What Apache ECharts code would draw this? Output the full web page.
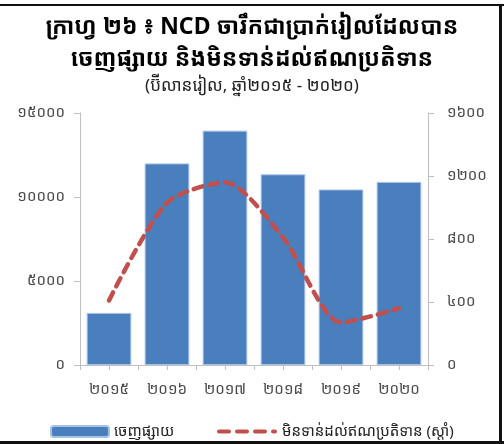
<!DOCTYPE html>
<html>
<head>
<meta charset="utf-8">
<script src="https://cdn.jsdelivr.net/npm/echarts@6/dist/echarts.min.js"></script>
<style>
  html, body { margin: 0; padding: 0; background: #fff; }
  #chart { width: 504px; height: 444px; }
</style>
</head>
<body>
<div id="chart"></div>
<script>
// Years on the category axis (Khmer numerals)
const years = ['២០១៥', '២០១៦', '២០១៧', '២០១៨', '២០១៩', '២០២០'];
// NCD issued, billion riel (left axis)
const issued = [3100, 12000, 13950, 11350, 10450, 10900];
// NCD outstanding, billion riel (right axis)
const outstanding = [410, 1030, 1160, 810, 270, 360];

const barName = 'ចេញផ្សាយ';
const lineName = 'មិនទាន់ដល់ឥណប្រតិទាន (ស្តាំ)';

const titleLines = [
  'ក្រាហ្វ ២៦ ៖ NCD ចារឹកជាប្រាក់រៀលដែលបាន',
  'ចេញផ្សាយ និងមិនទាន់ដល់ឥណប្រតិទាន'
];
const subTitle = '(ប៊ីលានរៀល, ឆ្នាំ២០១៥ - ២០២០)';

const FONT = '"Noto Sans Khmer", "Khmer OS", "Noto Sans", "DejaVu Sans", sans-serif';
const khDigits = '០១២៣៤៥៦៧៨៩';
const toKhmer = v => String(v).replace(/[0-9]/g, d => khDigits[+d]);

// dashed-line legend icon: three dashes and a dot
const dashIcon = 'path://M2,0H12A2,2,0,0,1,12,4H2A2,2,0,0,1,2,0Z' +
  'M20,0H30A2,2,0,0,1,30,4H20A2,2,0,0,1,20,0Z' +
  'M38,0H48A2,2,0,0,1,48,4H38A2,2,0,0,1,38,0Z' +
  'M56,0H58A2,2,0,0,1,58,4H56A2,2,0,0,1,56,0Z';

const chart = echarts.init(document.getElementById('chart'), null, { renderer: 'canvas' });

const axisGray = '#bfbfbf';
const labelColor = '#4a4a4a';

chart.setOption({
  animation: false,
  backgroundColor: '#ffffff',
  textStyle: { fontFamily: FONT },
  title: [
    {
      text: titleLines.join('\n'),
      left: 'center', top: 6,
      textStyle: { fontFamily: FONT, fontSize: 23, fontWeight: 'bold', color: '#000', lineHeight: 32 }
    },
    {
      text: subTitle,
      left: 'center', top: 73,
      textStyle: { fontFamily: FONT, fontSize: 17, fontWeight: 'normal', color: '#222' }
    }
  ],
  legend: [
    {
      data: [barName], left: 45, top: 419,
      itemWidth: 58, itemHeight: 11, itemGap: 6,
      textStyle: { fontFamily: FONT, fontSize: 15, color: '#222' }
    },
    {
      data: [{ name: lineName, icon: dashIcon }], left: 212, top: 419,
      itemWidth: 60, itemHeight: 4,
      textStyle: { fontFamily: FONT, fontSize: 15, color: '#222' }
    }
  ],
  grid: { left: 80, right: 76, top: 113, bottom: 79 },
  xAxis: [
    {
      type: 'category', data: years, boundaryGap: true,
      axisLine: { lineStyle: { color: axisGray } },
      axisTick: { show: true, length: 5, lineStyle: { color: axisGray } },
      axisLabel: { color: labelColor, fontSize: 15, margin: 17, fontFamily: FONT }
    },
    {
      type: 'category', data: years, position: 'bottom', boundaryGap: true,
      axisLine: { show: false },
      axisTick: { show: true, alignWithLabel: true, length: 5, lineStyle: { color: axisGray } },
      axisLabel: { show: false }
    }
  ],
  yAxis: [
    {
      type: 'value', min: 0, max: 15000, interval: 5000,
      splitLine: { show: false },
      axisLine: { show: true, lineStyle: { color: axisGray } },
      axisTick: { show: true, length: 6, lineStyle: { color: axisGray } },
      axisLabel: { color: labelColor, fontSize: 15, margin: 15, formatter: v => toKhmer(v) }
    },
    {
      type: 'value', min: 0, max: 1600, interval: 400, position: 'right',
      splitLine: { show: false },
      axisLine: { show: true, lineStyle: { color: axisGray } },
      axisTick: { show: true, length: 6, lineStyle: { color: axisGray } },
      axisLabel: { color: labelColor, fontSize: 15, margin: 19, formatter: v => toKhmer(v) }
    }
  ],
  series: [
    {
      name: barName, type: 'bar', data: issued,
      xAxisIndex: 0, yAxisIndex: 0,
      barCategoryGap: '23%',
      itemStyle: { color: '#4a7fbd', borderColor: '#a8c2e4', borderWidth: 1 }
    },
    {
      name: lineName, type: 'line', data: outstanding,
      xAxisIndex: 0, yAxisIndex: 1,
      smooth: 0.25, symbol: 'none',
      itemStyle: { color: '#c0504d' },
      lineStyle: { color: '#c0504d', width: 4.5, type: [9, 7], cap: 'round' },
      z: 5
    }
  ],
  graphic: [
    { type: 'rect', shape: { x: 0, y: 4, width: 504, height: 2 }, style: { fill: '#111' } },
    { type: 'rect', shape: { x: 499, y: 4, width: 3, height: 440 }, style: { fill: '#111' } },
    { type: 'rect', shape: { x: 0, y: 441, width: 504, height: 3 }, style: { fill: '#111' } }
  ]
});
</script>
</body>
</html>
